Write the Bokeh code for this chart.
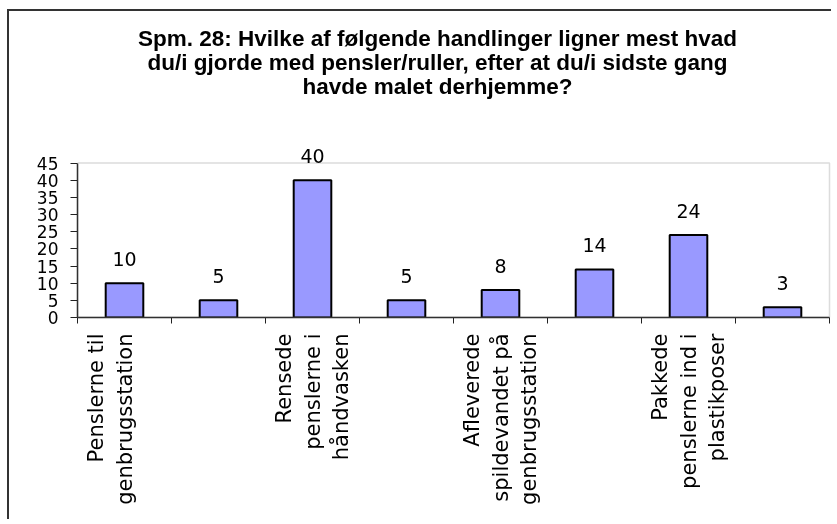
import math
from bokeh.plotting import figure
from bokeh.models import (Range1d, LinearAxis, FixedTicker, LabelSet, Label,
                          ColumnDataSource, BoxAnnotation)
from bokeh.core.properties import value
from bokeh.embed import file_html
from bokeh.resources import INLINE

# ---- data ----
title_lines = [
    "Spm. 28: Hvilke af følgende handlinger ligner mest hvad",
    "du/i gjorde med pensler/ruller, efter at du/i sidste gang",
    "havde malet derhjemme?",
]
labels = [
    "Penslerne til\ngenbrugsstation\n",
    "",
    "Rensede\npenslerne i\nhåndvasken",
    "",
    "Afleverede\nspildevandet på\ngenbrugsstation",
    "",
    "Pakkede\npenslerne ind i\nplastikposer",
    "",
]
values = [10, 5, 40, 5, 8, 14, 24, 3]
y_ticks = [0, 5, 10, 15, 20, 25, 30, 35, 40, 45]

n = len(values)
y_max = y_ticks[-1]
pos = [i + 0.5 for i in range(n)]
src = ColumnDataSource(dict(x=pos, top=values, label=[str(v) for v in values]))

# ---- layout (pixels) ----
plot_h = 154.5           # height of the 0..45 plot area
plot_w = 752             # width of the plot area (0..n)
frame_h = 306            # frame reaches up to the top of the canvas (room for title)
frame_w = 756            # a little wider than the plot area so its right border shows
y_top = y_max * frame_h / plot_h
x_end = n * frame_w / plot_w

p = figure(width=824, height=510, x_range=Range1d(0, x_end), y_range=Range1d(0, y_top),
           output_backend="svg", toolbar_location=None, x_axis_location=None,
           min_border_left=68, min_border_right=0, min_border_top=0, min_border_bottom=204)
p.styles = {"position": "fixed", "left": "7px", "top": "9px",
            "border-left": "2px solid #333333", "border-top": "2px solid #333333"}
p.background_fill_color = "white"
p.border_fill_color = "white"
p.outline_line_color = None
p.xgrid.visible = False
p.ygrid.visible = False

# plot-area border (0..n, 0..45)
p.add_layout(BoxAnnotation(left=0, right=n, bottom=0, top=y_max, fill_color=None,
                           line_color="#8c8c8c", line_width=1.5))

# y axis
ya = p.yaxis[0]
ya.ticker = FixedTicker(ticks=y_ticks)
ya.bounds = (0, y_max)
ya.major_tick_out = 7
ya.major_tick_in = 0
ya.minor_tick_out = 0
ya.minor_tick_in = 0
ya.axis_line_color = "#222222"
ya.axis_line_width = 1.5
ya.major_tick_line_color = "#222222"
ya.major_label_text_font = "DejaVu Sans"
ya.major_label_text_font_size = "17px"
ya.major_label_text_color = "black"
ya.major_label_standoff = 12

# x axis: boundary ticks
tick_axis = LinearAxis(ticker=FixedTicker(ticks=list(range(n + 1))), bounds=(0, n),
                       major_label_overrides={float(i): "" for i in range(n + 1)},
                       major_label_text_font_size="0px", major_label_standoff=0,
                       major_tick_out=6, major_tick_in=0, minor_tick_out=0, minor_tick_in=0,
                       axis_line_color="#222222", axis_line_width=1.5,
                       major_tick_line_color="#222222")
p.add_layout(tick_axis, "below")

# x axis: category labels
label_axis = LinearAxis(ticker=FixedTicker(ticks=pos),
                        major_label_overrides={x: l for x, l in zip(pos, labels)},
                        major_tick_out=0, major_tick_in=0, minor_tick_out=0, minor_tick_in=0,
                        axis_line_color=None, major_tick_line_color=None,
                        major_label_orientation=math.pi / 2, major_label_standoff=10,
                        major_label_text_font="DejaVu Sans", major_label_text_font_size="21px",
                        major_label_text_color="black")
p.add_layout(label_axis, "below")

# bars
p.vbar(x="x", top="top", width=0.4, source=src, fill_color="#9999FF",
       line_color="black", line_width=2)

# value labels
p.add_layout(LabelSet(x="x", y="top", text="label", source=src, y_offset=17,
                      text_align="center", text_baseline="alphabetic",
                      text_font=value("DejaVu Sans"), text_font_size=value("19px"),
                      text_color="black"))

# title
title_px = [38, 62, 86]           # line centres, page pixels
bottom_px = 317                   # page pixel of y = 0
for line, py in zip(title_lines, title_px):
    p.add_layout(Label(x=3.83, y=(bottom_px - py) * y_max / plot_h, text=line,
                       text_align="center", text_baseline="middle",
                       text_font="Liberation Sans", text_font_style="bold",
                       text_font_size="22.5px", text_color="black"))

open("out.html", "w").write(file_html(p, INLINE))
